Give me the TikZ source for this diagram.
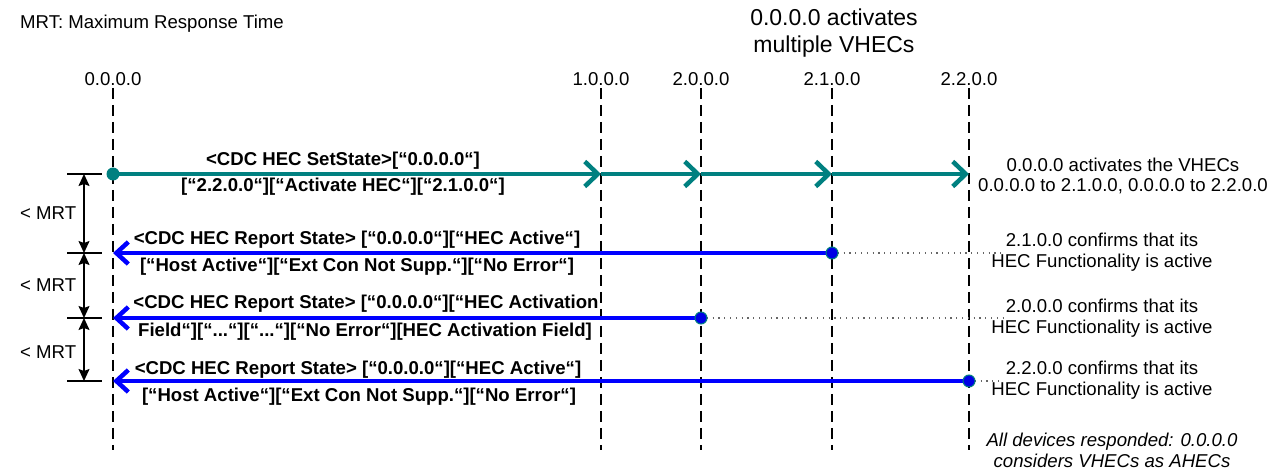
\documentclass[tikz,border=0pt]{standalone}
\usepackage{fontspec}
\setmainfont{Liberation Sans}
\usetikzlibrary{arrows.meta,positioning,calc}
\definecolor{setstate}{HTML}{008080}
\definecolor{report}{HTML}{0000FF}

\begin{document}
\begin{tikzpicture}[x=1pt,y=-1pt,
    every node/.style={font=\fontsize{18.6}{21}\selectfont,inner sep=0pt},
    dev/.style={inner sep=2pt},
    life/.style={line width=2.8pt,dash pattern=on 11pt off 6pt},
    msg/.style={font=\fontsize{18.6}{21}\selectfont\bfseries},
    note/.style={align=center},
    req/.style={line width=4.5pt,setstate,-{Straight Barb[length=13pt,width=25pt]}},
    rep/.style={line width=4.5pt,report,-{Straight Barb[length=12pt,width=22pt]}},
    mrt/.style={line width=1.6pt,{Stealth[length=12pt,width=11pt,inset=2pt]}-{Stealth[length=12pt,width=11pt,inset=2pt]}},
    tick/.style={line width=1.8pt},
    dots/.style={line width=1.2pt,black!60,dash pattern=on 1.2pt off 4.6pt}
]
\useasboundingbox (0,0) rectangle (1279,470);

\node[anchor=west] (legend) at (20,24) {MRT: Maximum Response Time};
\node[note,font=\fontsize{23}{27}\selectfont] (title) at (834,33) {0.0.0.0 activates\\multiple VHECs};

\node[dev] (h000) at (113,79) {0.0.0.0};
\node[dev] (h100) at (601,79) {1.0.0.0};
\node[dev] (h200) at (701,79) {2.0.0.0};
\node[dev] (h210) at (832,79) {2.1.0.0};
\node[dev] (h220) at (969,79) {2.2.0.0};
\coordinate (bot) at (0,450);
\foreach \d in {h000,h100,h200,h210,h220}
  \draw[life] (\d.south) -- (\d |- bot);

\coordinate (r0) at (67,174);
\coordinate (r1) at (67,253);
\coordinate (r2) at (67,318);
\coordinate (r3) at (67,381);

\draw[req] (h000 |- r0) -- (h100 |- r0);
\draw[req] (h100 |- r0) -- (h200 |- r0);
\draw[req] (h200 |- r0) -- (h210 |- r0);
\draw[req] (h210 |- r0) -- (h220 |- r0);
\fill[setstate] (h000 |- r0) circle (6.5);

\draw[rep] (h210 |- r1) -- (h000 |- r1);
\draw[rep] (h200 |- r2) -- (h000 |- r2);
\draw[rep] (h220 |- r3) -- (h000 |- r3);

\node[msg] (m0a) at (343,161) {<CDC HEC SetState>[“0.0.0.0“]};
\node[msg] (m0b) at (343,187) {[“2.2.0.0“][“Activate HEC“][“2.1.0.0“]};
\node[msg] (m1a) at (357,240) {<CDC HEC Report State> [“0.0.0.0“][“HEC Active“]};
\node[msg] (m1b) at (357,267) {[“Host Active“][“Ext Con Not Supp.“][“No Error“]};
\node[msg] (m2a) at (366,304) {<CDC HEC Report State> [“0.0.0.0“][“HEC Activation};
\node[msg] (m2b) at (365,332) {Field“][“...“][“...“][“No Error“][HEC Activation Field]};
\node[msg] (m3a) at (358,370) {<CDC HEC Report State> [“0.0.0.0“][“HEC Active“]};
\node[msg] (m3b) at (359,397) {[“Host Active“][“Ext Con Not Supp.“][“No Error“]};

\node[note,font=\fontsize{18.6}{20.5}\selectfont] (n0) at (1123,176) {0.0.0.0 activates the VHECs\\0.0.0.0 to 2.1.0.0, 0.0.0.0 to 2.2.0.0};
\node[note] (n1) at (1102,252) {2.1.0.0 confirms that its\\HEC Functionality is active};
\node[note] (n2) at (1102,318) {2.0.0.0 confirms that its\\HEC Functionality is active};
\node[note] (n3) at (1102,380) {2.2.0.0 confirms that its\\HEC Functionality is active};
\node[note,font=\fontsize{18.6}{21}\selectfont\itshape] (n4) at (1112,450) {All devices responded: 0.0.0.0\\considers VHECs as AHECs};

\draw[dots] (h210 |- r1) -- ($(n1.west |- r1)+(12,0)$);
\draw[dots] (h200 |- r2) -- ($(n2.west |- r2)+(12,0)$);
\draw[dots] (h220 |- r3) -- ($(n3.west |- r3)+(12,0)$);
\foreach \d/\r in {h210/r1,h200/r2,h220/r3}
  \filldraw[fill=report!90!black,draw=setstate,line width=1pt] (\d |- \r) circle (6);

\foreach \r in {r0,r1,r2,r3}
  \draw[tick] (\r) -- ++(35,0);
\draw[mrt] ($(r0)+(17,0)$) -- ($(r1)+(17,0)$);
\draw[mrt] ($(r1)+(17,0)$) -- ($(r2)+(17,0)$);
\draw[mrt] ($(r2)+(17,0)$) -- ($(r3)+(17,0)$);
\node[anchor=west] (t1) at (20,213) {< MRT};
\node[anchor=west] (t2) at (20,285) {< MRT};
\node[anchor=west] (t3) at (20,352) {< MRT};
\end{tikzpicture}
\end{document}
